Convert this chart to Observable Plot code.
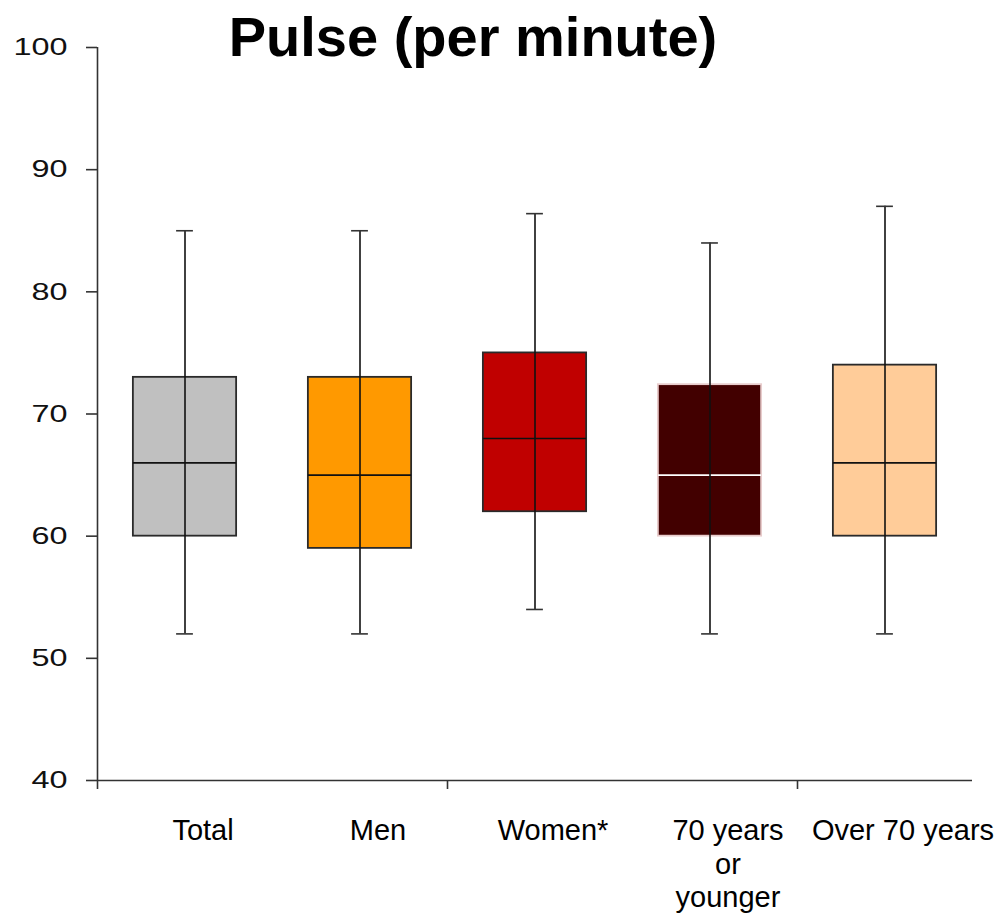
<!DOCTYPE html>
<html>
<head>
<meta charset="utf-8">
<script src="https://cdn.jsdelivr.net/npm/d3@7"></script>
<script src="https://cdn.jsdelivr.net/npm/@observablehq/plot@0.6"></script>
<style>
  html, body { margin: 0; padding: 0; background: #fff; overflow: hidden; }
  #wrap { position: relative; width: 1003px; height: 916px; }
  #title { position: absolute; left: 0; top: 9px; width: 946px; text-align: center;
    font: bold 56px "Liberation Sans", Arial, sans-serif; line-height: 56px; color: #000; }
</style>
</head>
<body>
<div id="wrap">
  <div id="chart"></div>
  <div id="title">Pulse (per minute)</div>
</div>
<script>
const categories = ["Total", "Men", "Women*", "70 years\nor\nyounger", "Over 70 years"];
const whiskerLow  = [52, 52, 54, 52, 52];
const q1          = [60, 59, 62, 60, 60];
const median      = [66, 65, 68, 65, 66];
const q3          = [73, 73, 75, 72.4, 74];
const whiskerHigh = [85, 85, 86.4, 84, 87];
const fills = ["#c0c0c0", "#ff9900", "#c00000", "#420000", "#ffcc99"];
const yTicks = [40, 50, 60, 70, 80, 90, 100];
const xTicks = [-0.5, 1.5, 3.5];

const dark = (c) => c === "#420000";
const rows = categories.map((c, i) => ({
  i, c,
  lo: whiskerLow[i], q1: q1[i], med: median[i], q3: q3[i], hi: whiskerHigh[i],
  fill: fills[i],
  stroke: dark(fills[i]) ? "#e8cccc" : "#2a2a2a",
  medStroke: dark(fills[i]) ? "#ffffff" : "#111111"
}));

const BW = 0.295;  // half box width in band units
const CW = 0.048;  // half cap width

const chart = Plot.plot({
  width: 1003,
  height: 916,
  marginLeft: 97,
  marginRight: 31,
  marginTop: 47,
  marginBottom: 136,
  style: { fontFamily: '"Liberation Sans", Arial, sans-serif', color: "#111", background: "#fff" },
  x: { domain: [-0.5, 4.5] },
  y: { domain: [40, 100] },
  color: { type: "identity" },
  marks: [
    Plot.rect(rows, { x1: d => d.i - BW, x2: d => d.i + BW, y1: "q1", y2: "q3", fill: "fill", stroke: "stroke", strokeWidth: 1.8 }),
    Plot.ruleY(rows, { y: "med", x1: d => d.i - BW, x2: d => d.i + BW, stroke: "medStroke", strokeWidth: 1.6 }),
    Plot.ruleX(rows, { x: "i", y1: "lo", y2: "hi", stroke: "#111", strokeWidth: 1.6 }),
    Plot.ruleY(rows, { y: "lo", x1: d => d.i - CW, x2: d => d.i + CW, stroke: "#333", strokeWidth: 1.6 }),
    Plot.ruleY(rows, { y: "hi", x1: d => d.i - CW, x2: d => d.i + CW, stroke: "#333", strokeWidth: 1.6 }),
    Plot.ruleY([40], { stroke: "#333", strokeWidth: 1.6 }),
    Plot.ruleX([-0.5], { stroke: "#333", strokeWidth: 1.6 }),
    Plot.axisY({ ticks: yTicks, tickSize: 11, tickPadding: 19, fontSize: 24, stroke: "#333", strokeWidth: 1.6, label: null }),
    Plot.axisX({ ticks: xTicks, tickSize: 9, tickFormat: () => "", stroke: "#333", strokeWidth: 1.6, label: null }),
    Plot.text(rows, { x: "i", y: () => 40, text: "c", dx: 18, dy: 35, lineAnchor: "top", lineHeight: 1.17, fontSize: 29, fill: "#000" })
  ]
});

document.getElementById("chart").appendChild(chart);

// stretch y tick labels horizontally as in the reference
d3.select(chart).selectAll('g[aria-label="y-axis tick label"] text').each(function () {
  const t = this.textContent;
  this.setAttribute("textLength", t.length * 18);
  this.setAttribute("lengthAdjust", "spacingAndGlyphs");
});
</script>
</body>
</html>
